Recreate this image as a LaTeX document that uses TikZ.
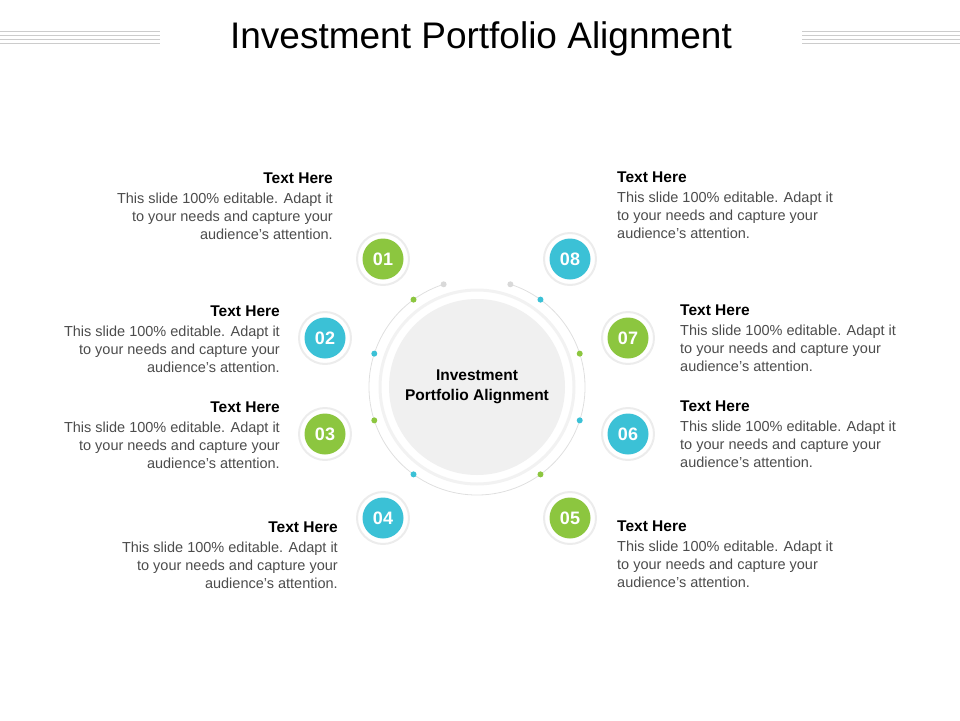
\documentclass[tikz,border=0pt]{standalone}
\usepackage{fontspec}
\setmainfont{Liberation Sans}
\usetikzlibrary{positioning}
\definecolor{grn}{HTML}{8CC63F}
\definecolor{blu}{HTML}{3BC1D6}
\begin{document}
\begin{tikzpicture}[x=1pt,y=-1pt]
	\tikzset{numring/.style = {circle, fill=white, minimum size=52pt, inner sep=0pt, draw=gray!15, line width=2pt},
		numdot/.style = {circle, minimum size=41pt, inner sep=0pt, text=white, font=\fontsize{18}{18}\selectfont\bfseries},
		head/.style = {font=\fontsize{15.5}{17}\selectfont\bfseries, inner sep=0pt},
		body/.style = {font=\fontsize{14.5}{18}\selectfont, text=black!70, inner sep=0pt},
		arcdot/.style = {circle, minimum size=6pt, inner sep=0pt}}
	\useasboundingbox (0,0) rectangle (960,720);
	
	% title with side rules
	\node[font=\fontsize{37}{37}\selectfont] (TITLE) at (481,39) {Investment Portfolio Alignment};
	\foreach \y in {31,35,39,43} {
		\draw[gray!40, line width=0.8pt] (0,\y) -- (160,\y);
		\draw[gray!40, line width=0.8pt] (802,\y) -- (960,\y);
	}
	
	% central hub
	\draw[gray!25, line width=0.8pt] (477,387) ++(-108:108) arc[start angle=-108, end angle=-432, radius=108];
	\node[circle, fill=white, draw=gray!10, line width=3pt, minimum size=194pt] (RING) at (477,387) {};
	\node[circle, fill=gray!12, minimum size=176pt, align=center, font=\fontsize{15.5}{20}\selectfont\bfseries] (HUB) at (477,387) {Investment\\Portfolio Alignment};
	\foreach \a in {108,72} \node[arcdot, fill=gray!30] at (477+108*cos \a, 387-108*sin \a) {};
	\foreach \a/\c in {126/grn,162/blu,198/grn,234/blu,306/grn,342/blu,18/grn,54/blu}
		\node[arcdot, fill=\c] at (477+108*cos \a, 387-108*sin \a) {};
	
	% numbered badges
	\foreach \n/\x/\y/\c in {01/383/259/grn,02/325/338/blu,03/325/434/grn,04/383/518/blu,05/570/518/grn,06/628/434/blu,07/628/338/grn,08/570/259/blu} {
		\node[numring] (R\n) at (\x,\y) {};
		\node[numdot, fill=\c] (N\n) at (\x,\y) {\n};
	}
	
	% left texts
	\foreach \n/\x/\y in {01/333/177,02/280/310,03/280/406,04/338/526} {
		\node[head, anchor=north east] (H\n) at (\x,\y-4) {Text Here};
		\node[body, anchor=north east, align=right] (T\n) at (\x,\y+16) {This slide 100\% editable. Adapt it\\to your needs and capture your\\audience’s attention.};
	}
	% right texts
	\foreach \n/\x/\y in {08/617/176,07/680/309,06/680/405,05/617/525} {
		\node[head, anchor=north west] (H\n) at (\x,\y-4) {Text Here};
		\node[body, anchor=north west, align=left] (T\n) at (\x,\y+16) {This slide 100\% editable. Adapt it\\to your needs and capture your\\audience’s attention.};
	}
\end{tikzpicture}
\end{document}
